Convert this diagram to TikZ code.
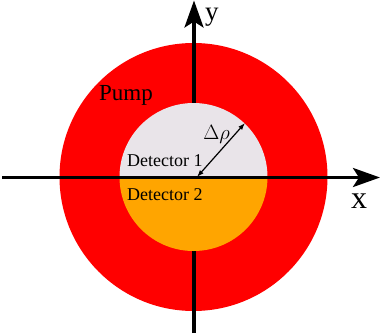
\documentclass[tikz,border=0pt]{standalone}
\usepackage{fontspec}
\setmainfont{Liberation Serif}
\usetikzlibrary{arrows.meta}
\definecolor{pumpred}{RGB}{255,0,0}
\definecolor{detgrey}{RGB}{233,228,233}
\definecolor{detorange}{RGB}{255,165,0}
\tikzset{
  axis/.style={line width=3.3pt,-{Stealth[length=27pt,width=19pt,inset=6pt]}},
  lbl/.style={inner sep=0pt,anchor=base west},
}
\begin{document}
\begin{tikzpicture}[x=1pt,y=-1pt]
\useasboundingbox (0,0) rectangle (381,335);
\coordinate (c) at (193.5,177);
\fill[pumpred] (c) circle (134);
\coordinate (vbot) at (194,333);
\coordinate (vtop) at (194,0.5);
\draw[axis] (vbot) -- (vtop);
\fill[detorange] (c) ++(-74,0) arc[start angle=180,end angle=0,radius=74] -- cycle;
\fill[detgrey] (c) ++(-74,0) arc[start angle=180,end angle=360,radius=74] -- cycle;
\coordinate (hl) at (2,177.5);
\coordinate (hr) at (380,177.5);
\draw[axis] (hl) -- (hr);
\coordinate (r0) at (197,177);
\coordinate (r1) at (245,123);
\draw[line width=1.2pt,{Latex[length=7pt,width=5pt]}-{Latex[length=7pt,width=5pt]}] (r0) -- (r1);
\node[lbl,font=\fontsize{18}{21}\selectfont] (d1) at (127,166) {Detector 1};
\node[lbl,font=\fontsize{18}{21}\selectfont] (d2) at (127,200) {Detector 2};
\node[lbl,font=\fontsize{23}{26}\selectfont] (pump) at (99,100) {Pump};
\node[lbl,font=\fontsize{27}{31}\selectfont] (ylab) at (205,20) {y};
\node[lbl,font=\fontsize{32}{37}\selectfont] (xlab) at (351,208) {x};
\node[inner sep=0pt,font=\fontsize{20}{24}\selectfont] (drho) at (216.5,134) {$\Delta\rho$};
\end{tikzpicture}
\end{document}
